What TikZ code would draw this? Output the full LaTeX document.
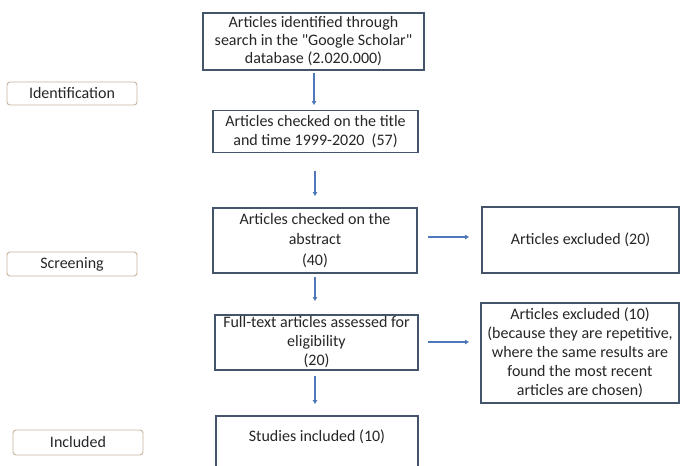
\documentclass[tikz,border=0pt]{standalone}
\usepackage{fontspec}
\setmainfont{Carlito}[Ligatures=TeXOff]
\usetikzlibrary{arrows.meta}
\definecolor{boxline}{HTML}{44546A}
\definecolor{arrowc}{HTML}{5078B8}
\definecolor{tagline}{HTML}{C8B49C}
\definecolor{txt}{HTML}{262626}
\begin{document}
\begin{tikzpicture}[x=1pt,y=-1pt,
  box/.style={draw=boxline,line width=1.8pt,inner sep=0pt,align=center,text=txt,
    font=\fontsize{16}{19}\selectfont},
  tag/.style={draw=tagline,line width=0.9pt,rounded corners=3pt,inner sep=0pt,
    minimum width=130pt,text=txt,font=\fontsize{16}{18}\selectfont},
  arr/.style={draw=arrowc,line width=1.2pt,-{Triangle[length=4pt,width=4.5pt]}}]
\clip (0,0) rectangle (681,466);
\fill[white] (0,0) rectangle (681,466);
% left stage tags
\node[tag,minimum height=23pt] (ident) at (72,93.5) {Identification};
\node[tag,minimum height=24pt] (screen) at (72,264) {Screening};
\node[tag,minimum height=25pt] (incl) at (78,442.5) {Included};
% main boxes
\node[box,minimum width=221pt,minimum height=57pt,font=\fontsize{16}{18}\selectfont] (b1) at (313.5,41.5)
  {Articles identified through\\search in the "Google Scholar"\\database (2.020.000)};
\node[box,minimum width=205pt,minimum height=42pt] (b2) at (315.5,131.5)
  {Articles checked on the title\\and time 1999-2020~ (57)};
\node[box,minimum width=204pt,minimum height=65pt,font=\fontsize{16}{20.5}\selectfont] (b3) at (315,240.5)
  {Articles checked on the\\abstract\\(40)};
\node[box,minimum width=197pt,minimum height=66pt] (e1) at (580.5,240)
  {Articles excluded (20)};
\node[box,minimum width=203pt,minimum height=55pt] (b4) at (316.5,342.5)
  {Full-text articles assessed for\\eligibility\\(20)};
\node[box,minimum width=198pt,minimum height=100pt] (e2) at (580,353)
  {Articles excluded (10)\\(because they are repetitive,\\where the same results are\\found the most recent\\articles are chosen)};
\node[box,anchor=north,minimum width=202pt,text height=26pt,text depth=34pt] (b5) at (317,415)
  {Studies included (10)};
% connectors
\coordinate (a1s) at (314,73);  \coordinate (a1e) at (314,105);
\coordinate (a2s) at (315,171); \coordinate (a2e) at (315,196);
\coordinate (a3s) at (315,277); \coordinate (a3e) at (315,301);
\coordinate (a4s) at (315,376); \coordinate (a4e) at (315,404);
\draw[arr] (a1s) -- (a1e);
\draw[arr] (a2s) -- (a2e);
\draw[arr] (a3s) -- (a3e);
\draw[arr] (a4s) -- (a4e);
\coordinate (r1s) at (428,237); \coordinate (r1e) at (469,237);
\coordinate (r2s) at (428,342); \coordinate (r2e) at (469,342);
\draw[arr] (r1s) -- (r1e);
\draw[arr] (r2s) -- (r2e);
\end{tikzpicture}
\end{document}
